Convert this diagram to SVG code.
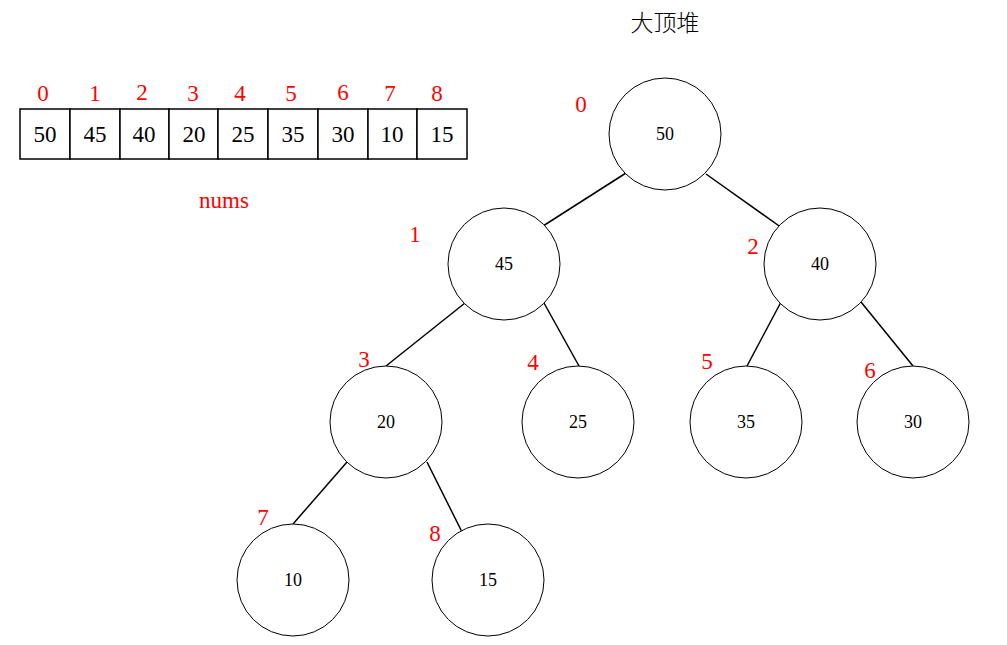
<svg xmlns="http://www.w3.org/2000/svg" width="1007" height="645" viewBox="0 0 1007 645">
<style>
text{font-family:"Liberation Serif","Noto Sans CJK SC",serif;text-anchor:middle;dominant-baseline:central}
.idx{fill:#ff0000;font-size:23px}
.val{fill:#000;font-size:23px}
.nv{fill:#000;font-size:18px}
.cell{fill:#fff;stroke:#000;stroke-width:1.5}
.node{fill:#fff;stroke:#000;stroke-width:1}
.edge{stroke:#000;stroke-width:1.5}
</style>
<rect width="1007" height="645" fill="#fff"/>
<g id="title"><text x="665" y="23" font-size="23" font-weight="300" fill="#000">大顶堆</text></g>
<g id="array">
<rect class="cell" x="20" y="109" width="50" height="50"/>
<rect class="cell" x="70" y="109" width="50" height="50"/>
<rect class="cell" x="120" y="109" width="49" height="50"/>
<rect class="cell" x="169" y="109" width="49" height="50"/>
<rect class="cell" x="218" y="109" width="50" height="50"/>
<rect class="cell" x="268" y="109" width="50" height="50"/>
<rect class="cell" x="318" y="109" width="50" height="50"/>
<rect class="cell" x="368" y="109" width="49" height="50"/>
<rect class="cell" x="417" y="109" width="50" height="50"/>
<text class="val" x="45" y="134">50</text>
<text class="val" x="95" y="134">45</text>
<text class="val" x="144" y="134">40</text>
<text class="val" x="194" y="134">20</text>
<text class="val" x="243" y="134">25</text>
<text class="val" x="293" y="134">35</text>
<text class="val" x="343" y="134">30</text>
<text class="val" x="392" y="134">10</text>
<text class="val" x="442" y="134">15</text>
<text class="idx" x="43" y="93">0</text>
<text class="idx" x="95" y="93">1</text>
<text class="idx" x="142" y="92">2</text>
<text class="idx" x="193" y="93">3</text>
<text class="idx" x="240" y="93">4</text>
<text class="idx" x="291" y="93">5</text>
<text class="idx" x="343" y="92">6</text>
<text class="idx" x="390" y="93">7</text>
<text class="idx" x="437" y="93">8</text>
<text class="idx" x="224" y="200" font-size="22">nums</text>
</g>
<g id="connectors">
<line class="edge" x1="626" y1="173" x2="543" y2="226"/>
<line class="edge" x1="706" y1="174" x2="782" y2="228"/>
<line class="edge" x1="465" y1="303" x2="386" y2="366"/>
<line class="edge" x1="544" y1="303" x2="579" y2="366"/>
<line class="edge" x1="781" y1="302" x2="747" y2="366"/>
<line class="edge" x1="861" y1="302" x2="913" y2="366"/>
<line class="edge" x1="347" y1="462" x2="293" y2="524"/>
<line class="edge" x1="427" y1="462" x2="462" y2="532"/>
</g>
<g id="n0"><circle class="node" cx="665" cy="134" r="56"/><text class="nv" x="665" y="134">50</text><text class="idx" x="581" y="104">0</text></g>
<g id="n1"><circle class="node" cx="504" cy="264" r="56"/><text class="nv" x="504" y="264">45</text><text class="idx" x="415" y="234">1</text></g>
<g id="n2"><circle class="node" cx="820" cy="264" r="56"/><text class="nv" x="820" y="264">40</text><text class="idx" x="753" y="246">2</text></g>
<g id="n3"><circle class="node" cx="386" cy="422" r="56"/><text class="nv" x="386" y="422">20</text><text class="idx" x="364" y="359">3</text></g>
<g id="n4"><circle class="node" cx="578" cy="422" r="56"/><text class="nv" x="578" y="422">25</text><text class="idx" x="533" y="362">4</text></g>
<g id="n5"><circle class="node" cx="746" cy="422" r="56"/><text class="nv" x="746" y="422">35</text><text class="idx" x="707" y="361">5</text></g>
<g id="n6"><circle class="node" cx="913" cy="422" r="56"/><text class="nv" x="913" y="422">30</text><text class="idx" x="870" y="370">6</text></g>
<g id="n7"><circle class="node" cx="293" cy="580" r="56"/><text class="nv" x="293" y="580">10</text><text class="idx" x="263" y="517">7</text></g>
<g id="n8"><circle class="node" cx="488" cy="580" r="56"/><text class="nv" x="488" y="580">15</text><text class="idx" x="435" y="533">8</text></g>
</svg>
